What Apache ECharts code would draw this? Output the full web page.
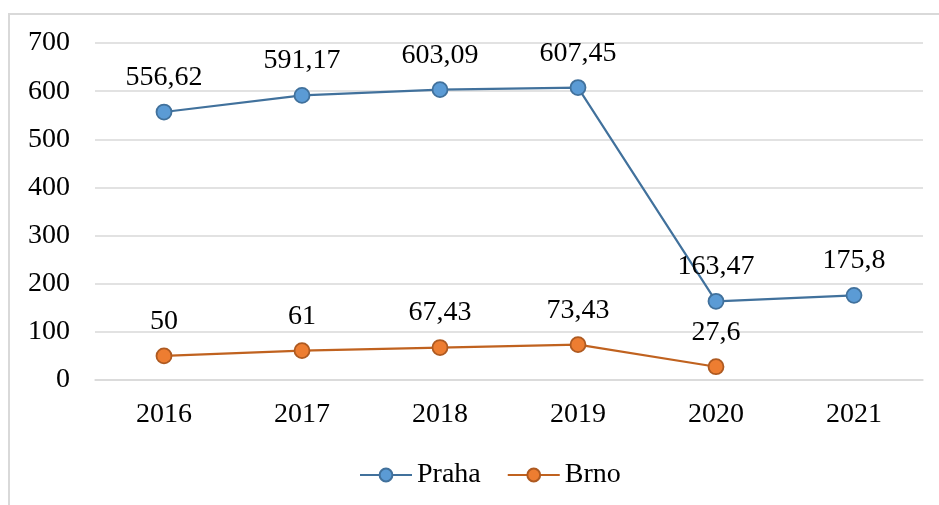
<!DOCTYPE html>
<html>
<head>
<meta charset="utf-8">
<script src="https://cdn.jsdelivr.net/npm/echarts@6/dist/echarts.min.js"></script>
<style>
  html, body { margin: 0; padding: 0; background: #fff; }
  #frame { position: absolute; left: 8px; top: 13px; width: 940px; height: 500px; border: 2px solid #D9D9D9; box-sizing: border-box; }
  #chart { position: absolute; left: 0; top: 0; width: 939px; height: 505px; }
</style>
</head>
<body>
<div id="frame"></div>
<div id="chart"></div>
<script>
const years = ['2016', '2017', '2018', '2019', '2020', '2021'];
const praha = [556.62, 591.17, 603.09, 607.45, 163.47, 175.8];
const brno = [50, 61, 67.43, 73.43, 27.6, null];
const yTicks = { min: 0, max: 700, interval: 100 };

const font = 'Liberation Serif, Times New Roman, serif';
const fmt = p => String(p.value).replace('.', ',');

const chart = echarts.init(document.getElementById('chart'));
chart.setOption({
  animation: false,
  grid: { left: 95, right: 16, top: 43, bottom: 125 },
  legend: {
    data: ['Praha', 'Brno'],
    top: 456,
    left: 354,
    itemWidth: 52,
    itemHeight: 16,
    itemGap: 26,
    textStyle: { fontFamily: font, fontSize: 28, color: '#000' }
  },
  xAxis: {
    type: 'category',
    data: years,
    axisLine: { lineStyle: { color: '#D9D9D9', width: 1.5 } },
    axisTick: { show: false },
    axisLabel: { fontFamily: font, fontSize: 28, color: '#000', margin: 21 }
  },
  yAxis: {
    type: 'value',
    min: yTicks.min,
    max: yTicks.max,
    interval: yTicks.interval,
    axisLine: { show: false },
    axisTick: { show: false },
    splitLine: { lineStyle: { color: '#D9D9D9', width: 1.5 } },
    axisLabel: { fontFamily: font, fontSize: 28, color: '#000', margin: 25 }
  },
  series: [
    {
      name: 'Praha',
      type: 'line',
      data: praha,
      symbol: 'circle',
      symbolSize: 15,
      itemStyle: { color: '#5B9BD5', borderColor: '#41719C', borderWidth: 1.8 },
      lineStyle: { color: '#41719C', width: 2.2 },
      label: { show: true, position: 'top', distance: 12, formatter: fmt, fontFamily: font, fontSize: 28, color: '#000' }
    },
    {
      name: 'Brno',
      type: 'line',
      data: brno,
      symbol: 'circle',
      symbolSize: 15,
      itemStyle: { color: '#ED7D31', borderColor: '#AE5A21', borderWidth: 1.8 },
      lineStyle: { color: '#C0621F', width: 2.2 },
      label: { show: true, position: 'top', distance: 12, formatter: fmt, fontFamily: font, fontSize: 28, color: '#000' }
    }
  ]
});
</script>
</body>
</html>
